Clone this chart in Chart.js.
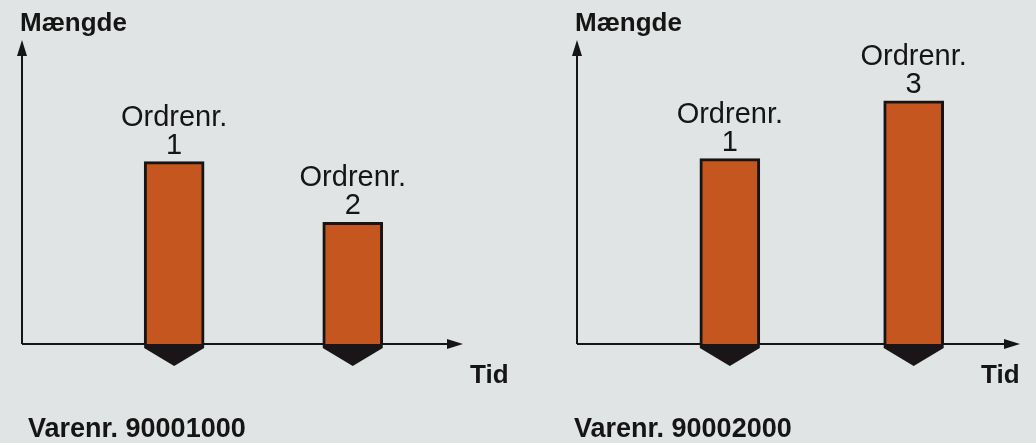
<!DOCTYPE html>
<html>
<head>
<meta charset="utf-8">
<script src="https://cdn.jsdelivr.net/npm/chart.js@4"></script>
<style>
  html, body { margin: 0; padding: 0; }
  body { width: 1036px; height: 443px; background: #e1e4e4; position: relative; overflow: hidden;
         font-family: "Liberation Sans", Arial, sans-serif; color: #151515; }
  .panel { position: absolute; top: 0; width: 518px; height: 443px; }
  .lbl { position: absolute; font-weight: bold; font-size: 26px; line-height: 1; white-space: nowrap; }
  .item { font-size: 27px; }
</style>
</head>
<body>
<div class="panel" style="left:0"><canvas id="leftChart" width="518" height="443"></canvas></div>
<div class="panel" style="left:518px"><canvas id="rightChart" width="518" height="443"></canvas></div>

<div class="lbl" style="left:20px;top:9px">Mængde</div>
<div class="lbl" style="left:470px;top:361px">Tid</div>
<div class="lbl item" style="left:28px;top:415px">Varenr. 90001000</div>

<div class="lbl" style="left:575px;top:9px">Mængde</div>
<div class="lbl" style="left:981px;top:361px">Tid</div>
<div class="lbl item" style="left:574px;top:415px">Varenr. 90002000</div>

<script>
// Item 90001000
const leftTimes = [3.45, 7.5];
const leftQty = [6.0, 4.0];
const leftOrders = ["1", "2"];

// Item 90002000
const rightTimes = [3.45, 7.6];
const rightQty = [6.1, 8.0];
const rightOrders = ["1", "3"];

const orderWord = "Ordrenr.";

// axes with arrow heads, pointers under bars, order labels over bars
const drawingPlugin = {
  id: "drawing",
  beforeDatasetsDraw(chart) {
    const ctx = chart.ctx;
    const a = chart.chartArea;
    ctx.save();
    ctx.strokeStyle = "#151515";
    ctx.fillStyle = "#151515";
    ctx.lineWidth = 2;
    ctx.beginPath();
    ctx.moveTo(a.left, a.bottom);
    ctx.lineTo(a.left, a.top + 8);
    ctx.moveTo(a.left, a.bottom);
    ctx.lineTo(a.right - 8, a.bottom);
    ctx.stroke();
    // y arrow
    ctx.beginPath();
    ctx.moveTo(a.left, a.top);
    ctx.lineTo(a.left - 5, a.top + 16);
    ctx.lineTo(a.left + 5, a.top + 16);
    ctx.closePath();
    ctx.fill();
    // x arrow
    ctx.beginPath();
    ctx.moveTo(a.right, a.bottom);
    ctx.lineTo(a.right - 16, a.bottom - 5);
    ctx.lineTo(a.right - 16, a.bottom + 5);
    ctx.closePath();
    ctx.fill();
    ctx.restore();
  },
  afterDatasetsDraw(chart) {
    const ctx = chart.ctx;
    const meta = chart.getDatasetMeta(0);
    const orders = chart.options.plugins.drawing.orders;
    ctx.save();
    meta.data.forEach(function (bar, i) {
      const half = bar.width / 2;
      ctx.fillStyle = "#1a1618";
      ctx.beginPath();
      ctx.moveTo(bar.x - half, bar.base);
      ctx.lineTo(bar.x + half, bar.base);
      ctx.lineTo(bar.x + half, bar.base + 4);
      ctx.lineTo(bar.x, bar.base + 22);
      ctx.lineTo(bar.x - half, bar.base + 4);
      ctx.closePath();
      ctx.fill();

      ctx.fillStyle = "#151515";
      ctx.textAlign = "center";
      ctx.textBaseline = "alphabetic";
      ctx.font = '29px "Liberation Sans", Arial, sans-serif';
      ctx.fillText(orderWord, bar.x, bar.y - 36);
      ctx.fillText(orders[i], bar.x, bar.y - 8);
    });
    ctx.restore();
  }
};

function makeChart(id, times, qty, orders, padLeft, padRight) {
  const points = times.map(function (t, i) { return { x: t, y: qty[i] }; });
  return new Chart(document.getElementById(id), {
    type: "bar",
    data: {
      datasets: [{
        data: points,
        backgroundColor: "#c5561f",
        borderColor: "#151515",
        borderWidth: 3,
        borderSkipped: "bottom",
        barThickness: 60
      }]
    },
    options: {
      responsive: false,
      animation: false,
      layout: { padding: { left: padLeft, right: padRight, top: 40, bottom: 99 } },
      scales: {
        x: { type: "linear", min: 0, max: 10, display: false, offset: false },
        y: { min: 0, max: 10, display: false }
      },
      plugins: {
        legend: { display: false },
        tooltip: { enabled: false },
        drawing: { orders: orders }
      }
    },
    plugins: [drawingPlugin]
  });
}

makeChart("leftChart", leftTimes, leftQty, leftOrders, 22, 55);
makeChart("rightChart", rightTimes, rightQty, rightOrders, 59, 16);
</script>
</body>
</html>
